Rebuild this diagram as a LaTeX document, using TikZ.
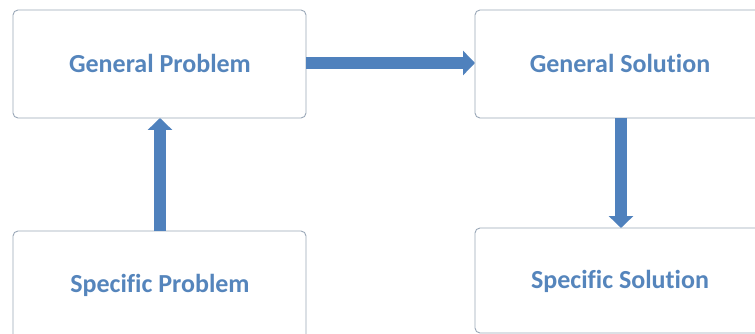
\documentclass[tikz,border=0pt]{standalone}
\usepackage{fontspec}
\setmainfont[Ligatures={NoCommon}]{Carlito}
\usetikzlibrary{arrows.meta}
\definecolor{arrowblue}{HTML}{4F81BD}
\definecolor{textblue}{HTML}{5585BC}
\definecolor{boxgray}{HTML}{9AA8B8}
\begin{document}
\begin{tikzpicture}[x=1pt,y=-1pt,
  box/.style={draw=boxgray,line width=0.9pt,rounded corners=5pt,fill=white},
  lbl/.style={text=textblue,font=\fontsize{26}{30}\selectfont\bfseries},
  fat/.style={draw=arrowblue,line width=12pt,-{Triangle[width=24pt,length=12pt]}}]
\useasboundingbox (0,0) rectangle (755,334);
\clip (0,0) rectangle (755,334);
\fill[white] (0,0) rectangle (755,334);
\draw[box] (13,10) rectangle (306,118);
\draw[box] (475,10) rectangle (765,118);
\draw[box] (13,231) rectangle (306,345);
\draw[box] (475,228) rectangle (765,333);
\node[lbl] (gp) at (160,63) {General Problem};
\node[lbl] (gs) at (620,63) {General Solution};
\node[lbl] (sp) at (160,285) {Specific Problem};
\node[lbl] (ss) at (620,281) {Specific Solution};
\coordinate (gpR) at (306,63);
\coordinate (gsL) at (475,63);
\coordinate (gpB) at (160,118);
\coordinate (spT) at (160,231);
\coordinate (gsB) at (621,118);
\coordinate (ssT) at (621,228);
\draw[fat] (gpR) -- (gsL);
\draw[fat] (spT) -- (gpB);
\draw[fat] (gsB) -- (ssT);
\end{tikzpicture}
\end{document}
